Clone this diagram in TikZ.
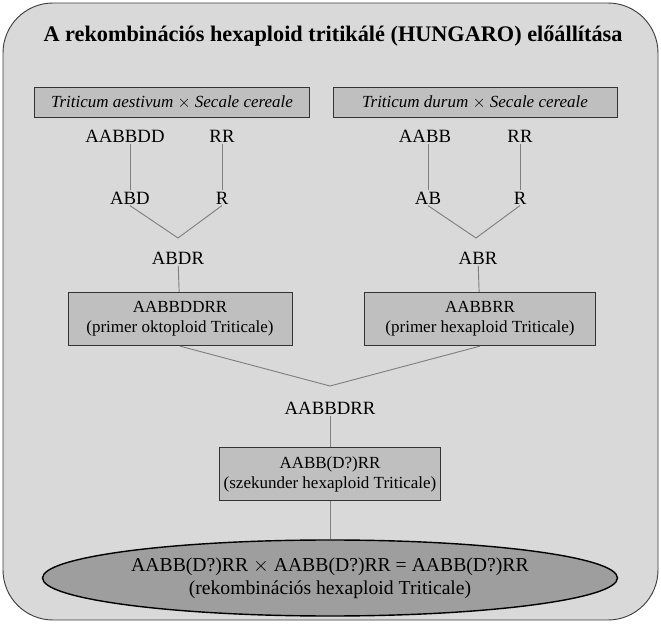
\documentclass[tikz,border=0pt]{standalone}
\usepackage{fontspec}
\setmainfont{Liberation Serif}
\usetikzlibrary{positioning, shapes.geometric}

\begin{document}
\begin{tikzpicture}[
    x=0.03cm, y=-0.03cm,
    txt/.style={font=\fontsize{16}{19}\selectfont, inner sep=1pt},
    parent/.style={draw=black!80, fill=black!25, font=\fontsize{14.5}{16}\selectfont\itshape, minimum width=#1*0.03cm, minimum height=0.9cm},
    hybrid/.style={draw=black!80, fill=black!25, thick, align=center, font=\fontsize{14.5}{17}\selectfont, minimum width=#1*0.03cm, minimum height=1.6cm},
    link/.style={draw=black!50, thick},
]
\useasboundingbox (0,0) rectangle (661,624);

% Frame
\draw[fill=black!15, draw=black!75, thick, rounded corners=1.5cm] (3,3) rectangle (658,620);
\node[font=\fontsize{19}{22}\selectfont\bfseries] (title) at (333,36) {A rekombinációs hexaploid tritikálé (HUNGARO) előállítása};

% ========== LEFT BRANCH ==========
\node[parent=275] (aest) at (172,102) {Triticum aestivum \upshape$\times$\itshape\ Secale cereale};
\node[txt] (aabbdd) at (125,136) {AABBDD};
\node[txt] (rr1) at (222,136) {RR};
\node[txt] (abd) at (130,198) {ABD};
\node[txt] (r1) at (222,198) {R};
\coordinate (v1) at (178,238);
\node[txt] (abdr) at (178,258) {ABDR};
\node[hybrid=224] (okto) at (180,319) {AABBDDRR\\(primer oktoploid Triticale)};

\draw[link] (aabbdd.south -| abd) -- (abd.north);
\draw[link] (rr1) -- (r1);
\draw[link] (abd.south) -- (v1) -- (r1.south);
\draw[link] (abdr) -- (okto);

% ========== RIGHT BRANCH ==========
\node[parent=284] (durum) at (475,102) {Triticum durum \upshape$\times$\itshape\ Secale cereale};
\node[txt] (aabb) at (425,136) {AABB};
\node[txt] (rr2) at (520,136) {RR};
\node[txt] (ab) at (428,198) {AB};
\node[txt] (r2) at (520,198) {R};
\coordinate (v2) at (476,238);
\node[txt] (abr) at (478,258) {ABR};
\node[hybrid=231] (hexa) at (480,319) {AABBRR\\(primer hexaploid Triticale)};

\draw[link] (aabb.south -| ab) -- (ab.north);
\draw[link] (rr2) -- (r2);
\draw[link] (ab.south) -- (v2) -- (r2.south);
\draw[link] (abr) -- (hexa);

% ========== SECONDARY ==========
\coordinate (v3) at (330,386);
\node[txt] (aabbdrr) at (330,408) {AABBDRR};
\node[hybrid=204] (szek) at (330,474) {AABB(D?)RR\\(szekunder hexaploid Triticale)};
\node[ellipse, draw=black, very thick, fill=black!38, align=center, minimum width=575*0.03cm, minimum height=76*0.03cm, inner sep=0pt, font=\fontsize{16.8}{20}\selectfont] (rekomb) at (330,578) {AABB(D?)RR $\times$ AABB(D?)RR = AABB(D?)RR\\(rekombinációs hexaploid Triticale)};

\draw[link] (okto.south) -- (v3) -- (hexa.south);
\draw[link] (aabbdrr) -- (szek);
\draw[link] (szek) -- (rekomb);
\end{tikzpicture}
\end{document}
